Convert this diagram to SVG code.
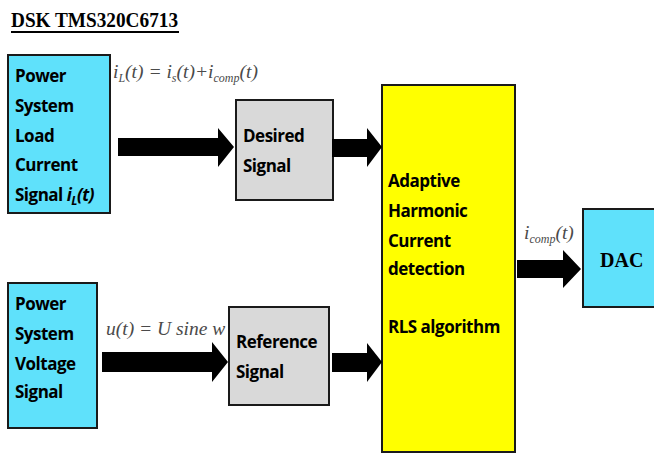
<svg xmlns="http://www.w3.org/2000/svg" width="654" height="454" viewBox="0 0 654 454">
<style>
.box{stroke:#1a1a1a;stroke-width:2}
.cyan{fill:#5fe1fb}
.gray{fill:#d9d9d9}
.yellow{fill:#ffff00}
.lbl{font-family:"Open Sans","Noto Sans",sans-serif;font-weight:700;font-size:17px;letter-spacing:-0.5px;fill:#000}
.eq{font-family:"Liberation Serif","Times New Roman",serif;font-style:italic;font-size:19.5px;fill:#4a4a4a}
.sub{font-size:12px}
.arrow{fill:#000}
</style>
<rect width="654" height="454" fill="#fff"/>
<g id="title">
<text x="11" y="27" font-family="Liberation Serif,serif" font-weight="700" font-size="20" textLength="167" lengthAdjust="spacingAndGlyphs">DSK TMS320C6713</text>
<rect x="11" y="31" width="168" height="2" fill="#000"/>
</g>
<g id="load-current">
<rect class="box cyan" x="8" y="55" width="102" height="158"/>
<text class="lbl" x="15" y="82">Power</text>
<text class="lbl" x="15" y="112">System</text>
<text class="lbl" x="15" y="142">Load</text>
<text class="lbl" x="15" y="171">Current</text>
<text class="lbl" x="15" y="201">Signal <tspan font-style="italic">i</tspan><tspan font-style="italic" class="sub" dy="4">L</tspan><tspan font-style="italic" dy="-4">(t)</tspan></text>
</g>
<g id="voltage">
<rect class="box cyan" x="8" y="283" width="89" height="145"/>
<text class="lbl" x="15" y="310">Power</text>
<text class="lbl" x="15" y="340">System</text>
<text class="lbl" x="15" y="370">Voltage</text>
<text class="lbl" x="15" y="398">Signal</text>
</g>
<g id="desired">
<rect class="box gray" x="236" y="100" width="97" height="100"/>
<text class="lbl" x="243" y="142">Desired</text>
<text class="lbl" x="243" y="172">Signal</text>
</g>
<g id="reference">
<rect class="box gray" x="229" y="307" width="100" height="98"/>
<text class="lbl" x="236" y="348">Reference</text>
<text class="lbl" x="236" y="378">Signal</text>
</g>
<g id="rls">
<rect class="box yellow" x="382" y="85" width="133" height="367"/>
<text class="lbl" x="388" y="187">Adaptive</text>
<text class="lbl" x="388" y="217">Harmonic</text>
<text class="lbl" x="388" y="247">Current</text>
<text class="lbl" x="388" y="275">detection</text>
<text class="lbl" x="388" y="333">RLS algorithm</text>
</g>
<g id="dac">
<rect class="box cyan" x="583" y="209" width="80" height="98"/>
<text x="600" y="267" font-family="Liberation Serif,serif" font-weight="700" font-size="20">DAC</text>
</g>
<g id="connectors">
<polygon class="arrow" points="118,138 218,138 218,128 234,147 218,167 218,156 118,156"/>
<polygon class="arrow" points="332,139 367,139 367,128 382,147 367,167 367,157 332,157"/>
<polygon class="arrow" points="102,352 212,352 212,342 228,362 212,382 212,372 102,372"/>
<polygon class="arrow" points="332,353 367,353 367,343 382,362 367,382 367,372 332,372"/>
<polygon class="arrow" points="517,260 563,260 563,250 581,269 563,288 563,278 517,278"/>
<text class="eq" x="113" y="78">i<tspan class="sub" dy="4">L</tspan><tspan dy="-4">(t) = i</tspan><tspan class="sub" dy="4">s</tspan><tspan dy="-4">(t)+i</tspan><tspan class="sub" dy="4">comp</tspan><tspan dy="-4">(t)</tspan></text>
<text class="eq" x="106" y="335">u(t) = U sine w</text>
<text class="eq" x="524" y="239">i<tspan class="sub" dy="4">comp</tspan><tspan dy="-4">(t)</tspan></text>
</g>
</svg>
